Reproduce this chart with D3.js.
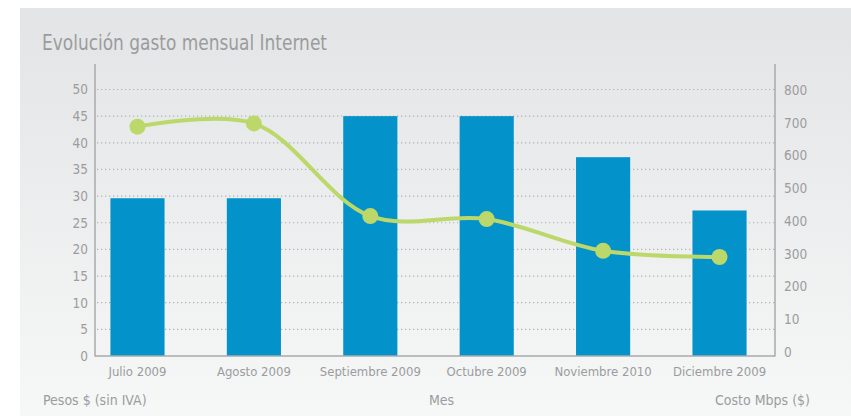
<!DOCTYPE html>
<html>
<head>
<meta charset="utf-8">
<script src="https://cdn.jsdelivr.net/npm/d3@7"></script>
<style>
  html, body { margin: 0; padding: 0; background: #fff; }
  text { font-family: "Liberation Sans Narrow", "DejaVu Sans Condensed", "Roboto", sans-serif; font-stretch: condensed; fill: #9b9c9e; }
</style>
</head>
<body>
<div id="chart"></div>
<script>
const months = ["Julio 2009", "Agosto 2009", "Septiembre 2009", "Octubre 2009", "Noviembre 2010", "Diciembre 2009"];
const pesos = [29.6, 29.6, 45, 45, 37.3, 27.3];
const costoMbps = [688, 698, 415, 406, 309, 290];
const leftTicks = [0, 5, 10, 15, 20, 25, 30, 35, 40, 45, 50];
const rightTicks = [0, 100, 200, 300, 400, 500, 600, 700, 800];
const rightTickLabels = ["0", "10", "200", "300", "400", "500", "600", "700", "800"];

const width = 851, height = 417;

const svg = d3.select("#chart").append("svg")
  .attr("width", width).attr("height", height);

const defs = svg.append("defs");
const grad = defs.append("linearGradient").attr("id", "bg").attr("x1", 0).attr("y1", 0).attr("x2", 0).attr("y2", 1);
grad.append("stop").attr("offset", "0%").attr("stop-color", "#e3e4e5");
grad.append("stop").attr("offset", "100%").attr("stop-color", "#f6f7f7");

svg.append("rect").attr("x", 20).attr("y", 8).attr("width", width - 20).attr("height", 408).attr("fill", "url(#bg)");

const x = d3.scaleBand().domain(months).range([79, 778]).paddingInner(0.535).paddingOuter(0.27);
const y = d3.scaleLinear().domain([0, 50]).range([356, 89.5]);
const yR = d3.scaleLinear().domain([0, 800]).range([352, 90]);

// grid lines
svg.append("g").selectAll("line").data(leftTicks.filter(d => d > 0)).enter().append("line")
  .attr("x1", 97).attr("x2", 775)
  .attr("y1", d => y(d)).attr("y2", d => y(d))
  .attr("stroke", "#b3b4b6").attr("stroke-width", 1.2).attr("stroke-dasharray", "1.3,2.7");

// bars
svg.append("g").selectAll("rect").data(pesos).enter().append("rect")
  .attr("x", (d, i) => x(months[i]))
  .attr("width", x.bandwidth())
  .attr("y", d => y(d))
  .attr("height", d => y(0) - y(d))
  .attr("fill", "#0392c9");

// axes lines
const axisColor = "#a9aaac";
svg.append("line").attr("x1", 95).attr("x2", 95).attr("y1", 64).attr("y2", 356.5).attr("stroke", axisColor).attr("stroke-width", 1.5);
svg.append("line").attr("x1", 775).attr("x2", 775).attr("y1", 64).attr("y2", 356.5).attr("stroke", axisColor).attr("stroke-width", 1.5);
svg.append("line").attr("x1", 95).attr("x2", 775).attr("y1", 356).attr("y2", 356).attr("stroke", axisColor).attr("stroke-width", 1.5);

// left tick labels
svg.append("g").selectAll("text").data(leftTicks).enter().append("text")
  .attr("x", 88).attr("y", d => y(d)).attr("dy", "0.36em")
  .attr("text-anchor", "end").attr("font-size", 13.5)
  .text(d => d);

// right tick labels
svg.append("g").selectAll("text").data(rightTicks).enter().append("text")
  .attr("x", 784).attr("y", d => yR(d)).attr("dy", "0.36em")
  .attr("text-anchor", "start").attr("font-size", 13.5)
  .text((d, i) => rightTickLabels[i]);

// month labels
svg.append("g").selectAll("text").data(months).enter().append("text")
  .attr("x", d => x(d) + x.bandwidth() / 2).attr("y", 376)
  .attr("text-anchor", "middle").attr("font-size", 13)
  .text(d => d);

// line
const line = d3.line()
  .x((d, i) => x(months[i]) + x.bandwidth() / 2)
  .y(d => yR(d))
  .curve(d3.curveCatmullRom.alpha(0.5));

svg.append("path").datum(costoMbps)
  .attr("d", line).attr("fill", "none")
  .attr("stroke", "#bcd86a").attr("stroke-width", 4);

svg.append("g").selectAll("circle").data(costoMbps).enter().append("circle")
  .attr("cx", (d, i) => x(months[i]) + x.bandwidth() / 2)
  .attr("cy", d => yR(d))
  .attr("r", 8).attr("fill", "#bcd86a");

// titles
svg.append("text").attr("x", 42).attr("y", 50).attr("font-size", 20.5)
  .attr("textLength", 285).attr("lengthAdjust", "spacingAndGlyphs")
  .text("Evolución gasto mensual Internet");
svg.append("text").attr("x", 43).attr("y", 405).attr("font-size", 14).text("Pesos $ (sin IVA)");
svg.append("text").attr("x", 429).attr("y", 405).attr("font-size", 14).text("Mes");
svg.append("text").attr("x", 810).attr("y", 405).attr("text-anchor", "end").attr("font-size", 14).text("Costo Mbps ($)");
</script>
</body>
</html>
